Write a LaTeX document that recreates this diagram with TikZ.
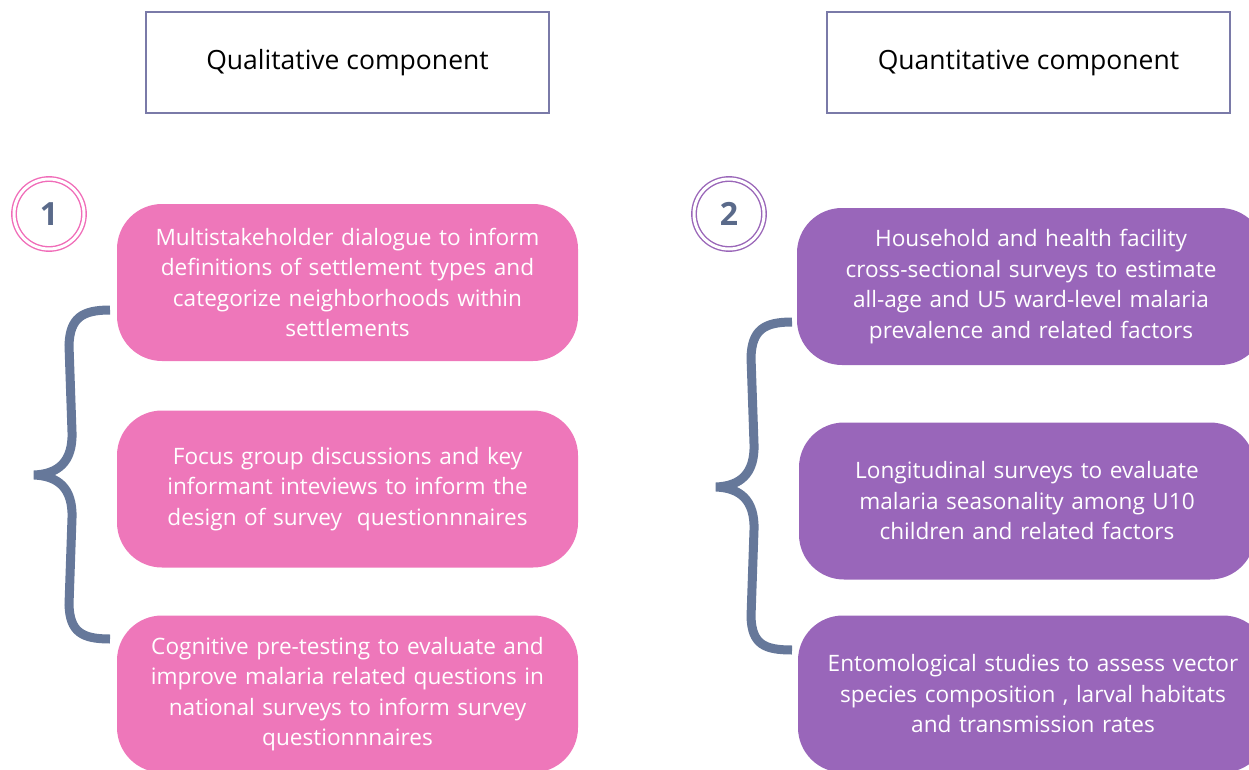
\documentclass[tikz,border=0pt]{standalone}
\usepackage{fontspec}
\setmainfont{Open Sans}
\definecolor{pinkbox}{HTML}{EE77BA}
\definecolor{purplebox}{HTML}{9966BA}
\definecolor{headborder}{HTML}{7A7AA8}
\definecolor{bracecol}{HTML}{66789A}
\definecolor{pinkring}{HTML}{F06CB8}
\definecolor{purplering}{HTML}{9A66B8}
\definecolor{numcol}{HTML}{5A6A8A}
\tikzset{
  header/.style={draw=headborder, line width=1.5pt, minimum width=403pt, minimum height=101pt, font=\fontsize{26.5}{30}\selectfont, text=black, inner sep=0pt},
  pillbox/.style={rounded corners=45pt, minimum width=461pt, minimum height=157pt, text width=455pt, align=center, text=white, font=\fontsize{22.6}{30.5}\selectfont, inner sep=0pt},
  ring/.style={circle, draw=#1, line width=1.4pt, minimum size=70pt, inner sep=0pt, double=white, double distance=3pt},
  numlbl/.style={font=\bfseries\fontsize{32}{34}\selectfont, text=numcol},
  bracestroke/.style={draw=bracecol, line width=9pt, line cap=butt}
}
\begin{document}
\begin{tikzpicture}[x=1pt,y=-1pt]
\useasboundingbox (0,0) rectangle (1249,770);
% headers
\node[header] (hq) at (347.5,62.5) {Qualitative component};
\node[header] (hn) at (1028.5,62.5) {Quantitative component};
% rings
\node[ring=pinkring] (c1) at (49,214) {};
\node[numlbl] (n1) at (49,214) {1};
\node[ring=purplering] (c2) at (729,214) {};
\node[numlbl] (n2) at (729,214) {2};
% pink boxes
\node[pillbox, fill=pinkbox] (q1) at (347.5,282.5) {Multistakeholder dialogue to inform\\definitions of settlement types and\\categorize neighborhoods within\\settlements};
\node[pillbox, fill=pinkbox] (q2) at (347.5,489) {Focus group discussions and key\\informant inteviews to inform the\\design of survey\ \ questionnnaires};
\node[pillbox, fill=pinkbox] (q3) at (347.5,694) {Cognitive pre-testing to evaluate and\\improve malaria related questions in\\national surveys to inform survey\\questionnnaires};
% purple boxes
\node[pillbox, fill=purplebox, minimum width=468pt] (p1) at (1031,286.5) {Household and health facility\\cross-sectional surveys to estimate\\all-age and U5 ward-level malaria\\prevalence and related factors};
\node[pillbox, fill=purplebox, minimum width=456pt] (p2) at (1027,501) {Longitudinal surveys to evaluate\\malaria seasonality among U10\\children and related factors};
\node[pillbox, fill=purplebox, minimum width=470pt] (p3) at (1033,694) {Entomological studies to assess vector\\species composition , larval habitats\\and transmission rates};
% braces
\draw[bracestroke] (110,310) .. controls (82,310) and (70,318) .. (69,345)
  -- (72,432) .. controls (73,462) and (58,474) .. (34,475)
  .. controls (58,476) and (73,488) .. (72,518)
  -- (69,605) .. controls (70,632) and (82,639) .. (110,639);
\draw[bracestroke] (792,322) .. controls (764,322) and (752,330) .. (751,357)
  -- (754,444) .. controls (755,474) and (740,486) .. (716,487)
  .. controls (740,488) and (755,500) .. (754,530)
  -- (751,617) .. controls (752,644) and (764,650) .. (792,650);
\end{tikzpicture}
\end{document}
